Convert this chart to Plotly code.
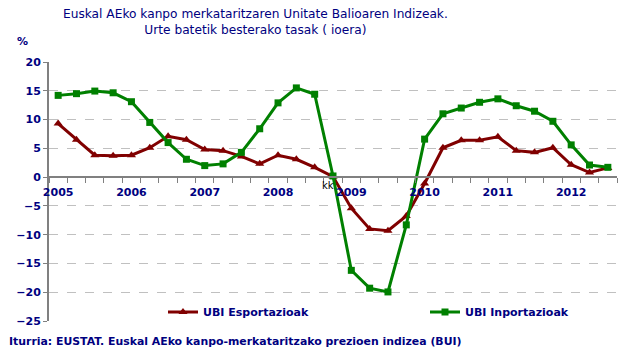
import plotly.graph_objects as go

# 2005Q1 .. 2012Q3 (quarterly)
quarters = list(range(31))
year_labels = ["2005", "2006", "2007", "2008", "2009", "2010", "2011", "2012"]
year_positions = [0, 4, 8, 12, 16, 20, 24, 28]
y_ticks = [20, 15, 10, 5, 0, -5, -10, -15, -20, -25]

ubi_esportazioak = [9.3, 6.5, 3.8, 3.7, 3.8, 5.1, 7.1, 6.5,
                    4.8, 4.6, 3.6, 2.3, 3.8, 3.1, 1.7, 0.1,
                    -5.4, -9.0, -9.3, -6.75, -1.1, 5.1, 6.4, 6.4,
                    7.0, 4.6, 4.3, 5.1, 2.15, 0.8, 1.6]
ubi_inportazioak = [14.2, 14.5, 14.95, 14.65, 13.1, 9.5, 6.0, 3.1,
                    2.0, 2.3, 4.3, 8.4, 12.9, 15.5, 14.4, 0.2,
                    -16.2, -19.3, -19.95, -8.3, 6.6, 11.0, 12.0, 13.0,
                    13.6, 12.4, 11.45, 9.7, 5.6, 2.1, 1.7]

NAVY = "#000080"
RED = "#800000"
GREEN = "#008000"

# the page places the figure 8px in from the top-left corner
OFF = 8
W, H = 643 - OFF, 357 - OFF
L, T = 49 - OFF, 62 - OFF
R, B = W - (617 - OFF), H - (321 - OFF)
PW, PH = W - L - R, H - T - B


def px_x(p):
    return (p - OFF - L) / PW


def px_y(p):
    return (H - B - (p - OFF)) / PH


fig = go.Figure()
fig.add_trace(go.Scatter(
    x=quarters, y=ubi_esportazioak, name="UBI Esportazioak",
    mode="lines+markers",
    line=dict(color=RED, width=3),
    marker=dict(symbol="triangle-up", size=8, color=RED),
    legend="legend",
))
fig.add_trace(go.Scatter(
    x=quarters, y=ubi_inportazioak, name="UBI Inportazioak",
    mode="lines+markers",
    line=dict(color=GREEN, width=3),
    marker=dict(symbol="square", size=7, color=GREEN),
    legend="legend2",
))

zero_pos = (0 - (-25)) / 45.0
legend_font = dict(family="DejaVu Sans", size=11, color=NAVY, weight="bold")

fig.update_layout(
    width=W, height=H,
    margin=dict(l=L, r=R, t=T, b=B, autoexpand=False),
    paper_bgcolor="white", plot_bgcolor="white",
    font=dict(family="DejaVu Sans", color=NAVY),
    showlegend=True,
    legend=dict(
        orientation="h", x=px_x(163), xanchor="left", y=px_y(312), yanchor="middle",
        font=legend_font, bgcolor="rgba(0,0,0,0)",
    ),
    legend2=dict(
        orientation="h", x=px_x(425), xanchor="left", y=px_y(312), yanchor="middle",
        font=legend_font, bgcolor="rgba(0,0,0,0)",
    ),
    xaxis=dict(
        range=[-0.5, 30.5],
        anchor="free", position=zero_pos,
        tickmode="array", tickvals=year_positions, ticktext=year_labels,
        ticks="", showgrid=False, zeroline=False,
        showline=True, linecolor="#808080", linewidth=2,
        tickfont=dict(family="DejaVu Sans", size=11, color=NAVY, weight="bold"),
        minor=dict(tickmode="linear", tick0=0.5, dtick=1, ticks="outside",
                   ticklen=5, tickcolor="#808080", tickwidth=1, showgrid=False),
        ticklabelstandoff=5,
    ),
    yaxis=dict(
        range=[-25, 20],
        tickmode="array", tickvals=y_ticks,
        ticks="outside", ticklen=4, tickcolor="#808080",
        showline=True, linecolor="#808080", linewidth=2,
        showgrid=True, gridcolor="#c0c0c0", griddash="dash", gridwidth=1,
        zeroline=False,
        tickfont=dict(family="DejaVu Sans", size=11, color=NAVY, weight="bold"),
    ),
    shapes=[dict(type="rect", xref="paper", yref="paper",
                 x0=px_x(111), x1=1.0, y0=px_y(330), y1=px_y(280),
                 fillcolor="white", line=dict(width=0), layer="between")],
    annotations=[
        dict(text="Euskal AEko kanpo merkataritzaren Unitate Balioaren Indizeak.<br>Urte batetik besterako tasak ( ioera)",
             xref="paper", yref="paper", x=px_x(255), y=px_y(22),
             xanchor="center", yanchor="middle", showarrow=False,
             font=dict(family="DejaVu Sans", size=12.2, color=NAVY)),
        dict(text="%", xref="paper", yref="paper", x=px_x(22), y=px_y(42),
             xanchor="center", yanchor="middle", showarrow=False,
             font=dict(family="DejaVu Sans", size=11, color=NAVY, weight="bold")),
        dict(text="kk", xref="x", yref="y", x=14.7, y=-1.4,
             xanchor="center", yanchor="middle", showarrow=False,
             font=dict(family="DejaVu Sans", size=10, color="black")),
        dict(text="Iturria: EUSTAT. Euskal AEko kanpo-merkataritzako prezioen indizea (BUI)",
             xref="paper", yref="paper", x=px_x(7), y=px_y(341),
             xanchor="left", yanchor="middle", showarrow=False,
             font=dict(family="DejaVu Sans", size=10.9, color=NAVY, weight="bold")),
    ],
)

fig.write_html("out.html")
